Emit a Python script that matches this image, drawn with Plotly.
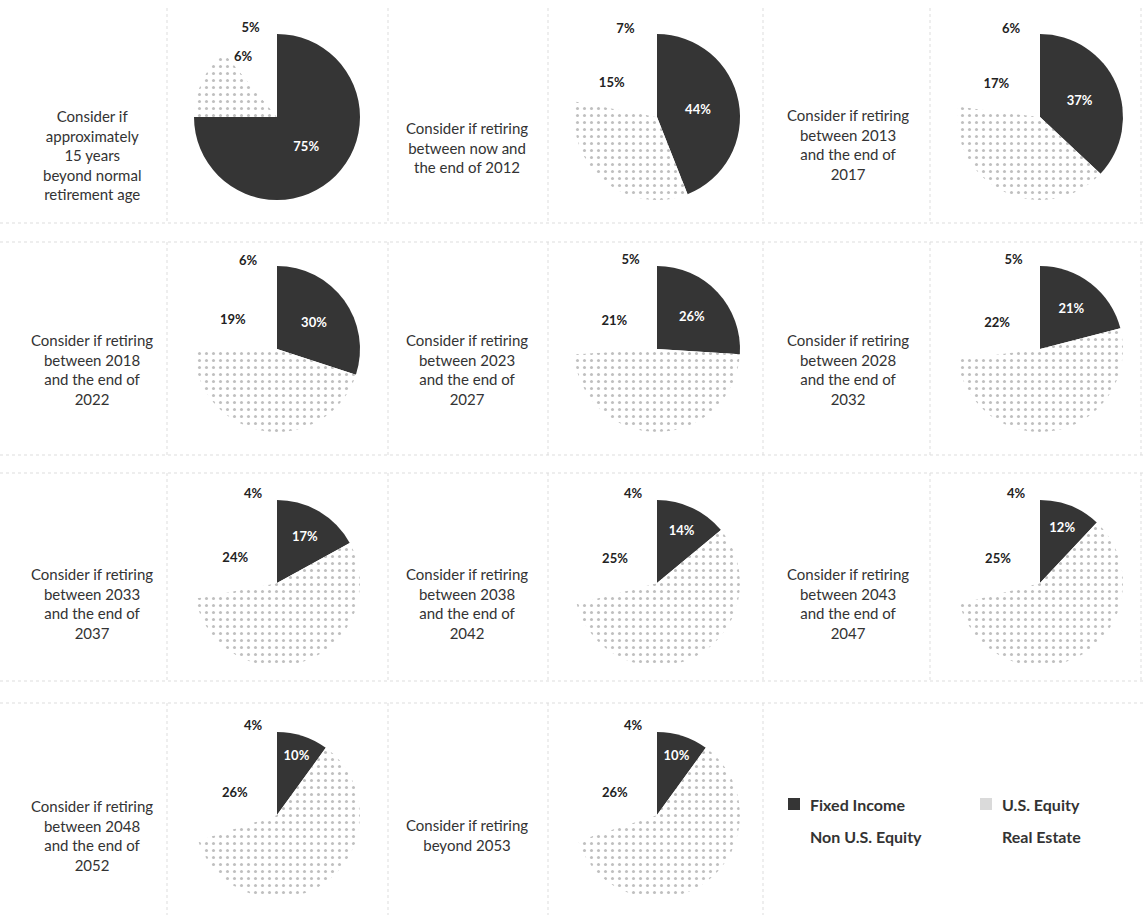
import plotly.graph_objects as go

# ---- data ----
categories = ["Fixed Income", "U.S. Equity", "Non U.S. Equity", "Real Estate"]
fixed_income = [75, 44, 37, 30, 26, 21, 17, 14, 12, 10, 10]
us_equity = [14, 34, 40, 45, 48, 52, 55, 57, 59, 60, 60]
non_us_equity = [6, 15, 17, 19, 21, 22, 24, 25, 25, 26, 26]
real_estate = [5, 7, 6, 6, 5, 5, 4, 4, 4, 4, 4]
captions = [
    "Consider if<br>approximately<br>15 years<br>beyond normal<br>retirement age",
    "Consider if retiring<br>between now and<br>the end of 2012",
    "Consider if retiring<br>between 2013<br>and the end of<br>2017",
    "Consider if retiring<br>between 2018<br>and the end of<br>2022",
    "Consider if retiring<br>between 2023<br>and the end of<br>2027",
    "Consider if retiring<br>between 2028<br>and the end of<br>2032",
    "Consider if retiring<br>between 2033<br>and the end of<br>2037",
    "Consider if retiring<br>between 2038<br>and the end of<br>2042",
    "Consider if retiring<br>between 2043<br>and the end of<br>2047",
    "Consider if retiring<br>between 2048<br>and the end of<br>2052",
    "Consider if retiring<br>beyond 2053",
]

# ---- layout constants ----
W, H = 1145, 922
col_x = [277, 657, 1040]
row_y = [117, 349, 583, 815]
text_x = [92, 467, 848]
R = 83
colors = ["#353535", "#ebebeb", "#ffffff", "#ffffff"]

fig = go.Figure()

def px_x(x):
    return x / W

def px_y(y):
    return 1 - y / H

for i in range(len(fixed_income)):
    r, c = divmod(i, 3)
    cx, cy = col_x[c], row_y[r]
    vals = [fixed_income[i], us_equity[i], non_us_equity[i], real_estate[i]]
    txt = [f"<b>{vals[0]}%</b>", "", f"<b>{vals[2]}%</b>", f"<b>{vals[3]}%</b>"]
    fig.add_trace(go.Pie(
        labels=categories, values=vals, sort=False, direction="clockwise",
        rotation=0, text=txt, textinfo="text", hoverinfo="label+percent",
        textposition=["inside", "inside", "auto", "outside"],
        insidetextorientation="horizontal",
        textfont=dict(family="Lato", size=13, color=["#ffffff", "#222222", "#222222", "#222222"]),
        marker=dict(colors=colors, line=dict(width=0),
                    pattern=dict(shape=["", ".", "", ""], fgcolor="#8a8a8a",
                                 fgopacity=0.55, size=7, solidity=0.15)),
        domain=dict(x=[px_x(cx - R), px_x(cx + R)], y=[px_y(cy + R), px_y(cy - R)]),
        showlegend=False,
    ))
    if r == 0:
        ty = [155, 147, 144][c]
    else:
        ty = cy + 20
    fig.add_annotation(
        x=px_x(text_x[c]), y=px_y(ty), xref="paper", yref="paper",
        text=captions[i], showarrow=False, align="center",
        xanchor="center", yanchor="middle",
        font=dict(family="Lato", size=15, color="#333333"),
    )

# ---- faint panel grid ----
grid = dict(color="#dddddd", width=1, dash="dot")
hlines = [223, 242, 455, 473, 681, 703]
for y in hlines:
    fig.add_shape(type="line", xref="paper", yref="paper",
                  x0=0, x1=1, y0=px_y(y), y1=px_y(y), line=grid)
row_bands = [(8, 223), (242, 455), (473, 681), (703, 915)]
vlines = [167, 388, 548, 763, 930, 1141]
for k, (y0, y1) in enumerate(row_bands):
    for x in vlines:
        if k == 3 and x in (930, 1141):
            continue
        fig.add_shape(type="line", xref="paper", yref="paper",
                      x0=px_x(x), x1=px_x(x), y0=px_y(y0), y1=px_y(y1), line=grid)

# ---- legend (drawn) ----
legend_items = [
    (categories[0], 808, 804, colors[0]),
    (categories[1], 1000, 804, "#dadada"),
    (categories[2], 808, 836, None),
    (categories[3], 1000, 836, None),
]
for name, lx, ly, col in legend_items:
    fig.add_annotation(
        x=px_x(lx), y=px_y(ly), xref="paper", yref="paper", text=f"<b>{name}</b>",
        showarrow=False, xanchor="left", yanchor="middle",
        font=dict(family="Lato", size=16, color="#333333"),
    )
    if col is not None:
        sx = lx - 20
        fig.add_shape(type="rect", xref="paper", yref="paper",
                      x0=px_x(sx), x1=px_x(sx + 12), y0=px_y(ly + 6), y1=px_y(ly - 6),
                      fillcolor=col, line=dict(width=0))

fig.update_layout(
    width=W, height=H, margin=dict(l=0, r=0, t=0, b=0),
    paper_bgcolor="white", plot_bgcolor="white",
)

fig.write_html("out.html")
